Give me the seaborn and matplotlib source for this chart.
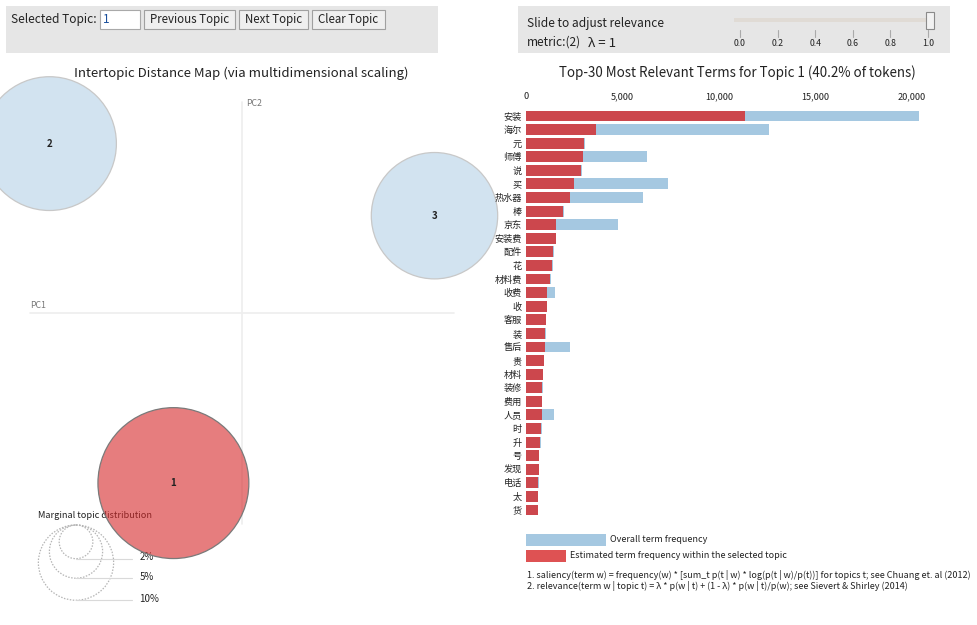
import numpy as np
import pandas as pd
import matplotlib
matplotlib.use("Agg")
import matplotlib.pyplot as plt
from matplotlib.patches import Circle, Rectangle
import seaborn as sns

# ---------------- data ----------------
terms = ["安装", "海尔", "元", "师傅", "说", "买", "热水器", "棒", "京东", "安装费",
         "配件", "花", "材料费", "收费", "收", "客服", "装", "售后", "贵", "材料",
         "装修", "费用", "人员", "时", "升", "号", "发现", "电话", "太", "货"]
overall_freq = [20363, 12575, 3060, 6285, 2890, 7358, 6078, 1960, 4782, 1570,
                1445, 1400, 1290, 1503, 1100, 1045, 1020, 2280, 950, 880,
                870, 845, 1435, 810, 760, 675, 670, 660, 640, 620]
topic_freq = [11347, 3627, 3005, 2938, 2850, 2503, 2280, 1933, 1554, 1539,
              1415, 1363, 1259, 1104, 1073, 1021, 1000, 969, 933, 865,
              845, 829, 829, 793, 725, 658, 658, 637, 622, 606]
x_ticks = [0, 5000, 10000, 15000, 20000]
x_tick_labels = ["0", "5,000", "10,000", "15,000", "20,000"]

topic_ids = [1, 2, 3]
pc1 = [-0.098, -0.275, 0.275]
pc2 = [-0.243, 0.242, 0.139]
topic_pct = [40.2, 31.6, 28.2]
selected_topic = 1
legend_pct = [2, 5, 10]
slider_ticks = [0.0, 0.2, 0.4, 0.6, 0.8, 1.0]
lambda_value = 1.0

# ---------------- style ----------------
sns.set_theme(style="white")
plt.rcParams["font.family"] = ["Noto Sans CJK SC", "DejaVu Sans"]

W, H = 977, 625
fig = plt.figure(figsize=(W / 100, H / 100), dpi=100)


def rect(x0, y0, x1, y1):
    return [x0 / W, 1 - y1 / H, (x1 - x0) / W, (y1 - y0) / H]


bg = fig.add_axes([0, 0, 1, 1], zorder=0)
bg.set_xlim(0, W)
bg.set_ylim(H, 0)
bg.axis("off")

BLUE = "#1f77b4"
RED = "#d62728"
TXT = "#222222"

# ---------------- top panels ----------------
bg.add_patch(Rectangle((6, 6), 432, 47, facecolor="#e6e6e6", edgecolor="none"))
bg.add_patch(Rectangle((518, 6), 432, 47, facecolor="#e6e6e6", edgecolor="none"))

bg.text(11, 19.5, "Selected Topic:", fontsize=8.6, va="center", ha="left", color=TXT)
bg.add_patch(Rectangle((100, 10.3), 39.5, 18.5, facecolor="white", edgecolor="#a9a9a9", lw=0.8))
bg.text(103, 19.8, str(selected_topic), fontsize=8.5, va="center", ha="left", color="#1a4f9c")
for (x0, x1, lab) in [(144, 235, "Previous Topic"), (239.3, 307.7, "Next Topic"), (312, 384.7, "Clear Topic")]:
    bg.add_patch(Rectangle((x0, 10.3), x1 - x0, 18.7, facecolor="#efefef", edgecolor="#a0a0a0", lw=0.8))
    bg.text((x0 + x1) / 2, 19.8, lab, fontsize=8.3, va="center", ha="center", color=TXT)

bg.text(527, 23, "Slide to adjust relevance", fontsize=8.6, va="center", ha="left", color=TXT)
bg.text(527, 42, "metric:(2)", fontsize=8.6, va="center", ha="left", color=TXT)
bg.text(588, 43, "λ = %g" % lambda_value, fontsize=9.5, va="center", ha="left", color=TXT)

# slider
sx0, sx1 = 740, 928
bg.add_patch(Rectangle((734, 18.3), 200, 3.5, facecolor="#e0dbd5", edgecolor="none"))
for v in slider_ticks:
    xp = sx0 + (sx1 - sx0) * v
    bg.plot([xp, xp], [30, 36.5], color="#aaaaaa", lw=0.8)
    bg.text(xp, 44, "%.1f" % v, fontsize=6.3, ha="center", va="center", color=TXT)
hx = sx0 + (sx1 - sx0) * lambda_value + 2
bg.add_patch(Rectangle((hx - 4, 12.3), 8, 16.7, facecolor="#f2f2f2", edgecolor="#8a8a8a", lw=0.8, zorder=5))

# ---------------- titles ----------------
bg.text(241.5, 73, "Intertopic Distance Map (via multidimensional scaling)",
        fontsize=9.5, ha="center", va="center", color=TXT)
bg.text(737.5, 73, "Top-30 Most Relevant Terms for Topic %d (%.1f%% of tokens)"
        % (selected_topic, topic_pct[0]), fontsize=9.6, ha="center", va="center", color=TXT)

# ---------------- marginal legend ----------------
K = 11.9  # px per sqrt(percent)
lcx, ltop = 76, 525
bg.text(38, 515, "Marginal topic distribution", fontsize=6.6, ha="left", va="center", color=TXT, zorder=1)
rl = K * np.sqrt(max(legend_pct))
for p in legend_pct:
    r = K * np.sqrt(p)
    bg.add_patch(Circle((lcx, ltop + r), r, facecolor="none", edgecolor="#b5b5b5",
                        lw=0.9, ls=(0, (1.2, 1.2))))
    yl = ltop + 2 * r
    bg.plot([lcx, lcx + 1.5 * rl], [yl, yl], color="#d9d9d9", lw=0.8)
    bg.text(lcx + 1.5 * rl + 7, yl - 1.5, "%d%%" % p, fontsize=7, ha="left", va="center", color=TXT)

# ---------------- map ----------------
PX = 700.0
axm = fig.add_axes(rect(0, 90, 484, 536), zorder=2)
axm.set_xlim(-242 / PX, 242 / PX)
axm.set_ylim(-223 / PX, 223 / PX)
axm.axis("off")
axm.patch.set_alpha(0)
axm.plot([-212 / PX, 212 / PX], [0, 0], color="#eeeeee", lw=1.2, zorder=1)
axm.plot([0, 0], [-211 / PX, 211 / PX], color="#eeeeee", lw=1.2, zorder=1)
axm.text(-212 / PX, 7 / PX, "PC1", fontsize=6.3, color="#777777", ha="left", va="center")
axm.text(4 / PX, 209 / PX, "PC2", fontsize=6.3, color="#777777", ha="left", va="center")

for tid, x, y, p in zip(topic_ids, pc1, pc2, topic_pct):
    r = K * np.sqrt(p) / PX
    if tid == selected_topic:
        fc = matplotlib.colors.to_rgba(RED, 0.6)
        ec = "#7a7a7a"
    else:
        fc = matplotlib.colors.to_rgba(BLUE, 0.2)
        ec = "#c8c8c8"
    axm.add_patch(Circle((x, y), r, facecolor=fc, edgecolor=ec, lw=0.9, clip_on=False, zorder=3))
    axm.text(x, y, str(tid), fontsize=7, fontweight="bold", ha="center", va="center",
             color="#222222", zorder=4)

# ---------------- bars ----------------
df = pd.DataFrame({"term": terms, "overall": overall_freq, "topic": topic_freq})
axb = fig.add_axes(rect(526, 109.2, 919, 516.8), zorder=3)
sns.barplot(data=df, x="overall", y="term", orient="h", color=BLUE, alpha=0.4,
            saturation=1, width=0.8, linewidth=0, ax=axb)
sns.barplot(data=df, x="topic", y="term", orient="h", color=RED, alpha=0.8,
            saturation=1, width=0.8, linewidth=0, ax=axb)
axb.set_xlim(0, max(overall_freq))
axb.set_ylim(len(terms) - 0.5, -0.5)
axb.set_xlabel("")
axb.set_ylabel("")
for s in axb.spines.values():
    s.set_visible(False)
axb.patch.set_alpha(0)
axb.xaxis.tick_top()
axb.set_xticks(x_ticks)
axb.set_xticklabels(x_tick_labels)
axb.tick_params(axis="x", length=0, pad=6, labelsize=6.6, colors=TXT)
axb.tick_params(axis="y", length=0, pad=3, labelsize=6.6, colors=TXT)

# bar legend
bg.add_patch(Rectangle((526, 534), 80, 12, facecolor=matplotlib.colors.to_rgba(BLUE, 0.4), edgecolor="none"))
bg.text(610, 540, "Overall term frequency", fontsize=6.5, ha="left", va="center", color=TXT)
bg.add_patch(Rectangle((526, 550), 40, 12, facecolor=matplotlib.colors.to_rgba(RED, 0.8), edgecolor="none"))
bg.text(570, 556, "Estimated term frequency within the selected topic", fontsize=6.5,
        ha="left", va="center", color=TXT)
bg.text(527, 575, "1. saliency(term w) = frequency(w) * [sum_t p(t | w) * log(p(t | w)/p(t))] for topics t; see Chuang et. al (2012)",
        fontsize=6.5, ha="left", va="center", color=TXT)
bg.text(527, 586, "2. relevance(term w | topic t) = λ * p(w | t) + (1 - λ) * p(w | t)/p(w); see Sievert & Shirley (2014)",
        fontsize=6.5, ha="left", va="center", color=TXT)

fig.savefig("out.png", dpi=100)
